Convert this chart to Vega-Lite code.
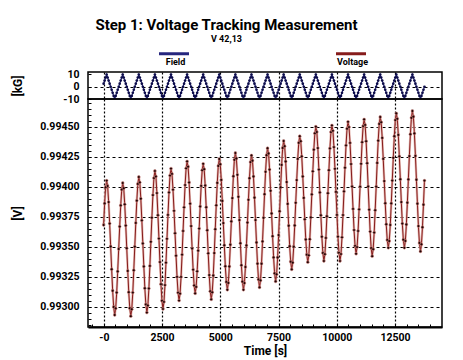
{
  "$schema": "https://vega.github.io/schema/vega-lite/v6.json",
  "background": "white",
  "padding": {"left": 10, "top": 18, "right": 5, "bottom": 5},
  "title": {
    "text": "Step 1: Voltage Tracking Measurement",
    "subtitle": "V 42,13",
    "anchor": "middle",
    "fontSize": 15,
    "fontWeight": "bold",
    "color": "black",
    "subtitleFontSize": 9,
    "subtitleFontWeight": "bold",
    "subtitleColor": "black",
    "subtitlePadding": 2,
    "offset": -7
  },
  "config": {
    "font": "Roboto",
    "view": {"stroke": "black", "strokeWidth": 1.5},
    "axis": {
      "labelFontSize": 10.5,
      "labelFontWeight": "bold",
      "labelColor": "black",
      "titleFontSize": 12,
      "titleFontWeight": "bold",
      "titleColor": "black",
      "tickColor": "black",
      "gridColor": "black",
      "gridWidth": 1.2,
      "domain": false,
      "labelOverlap": false,
      "labelBound": false,
      "labelFlush": false
    }
  },
  "datasets": {
    "run": [
      {"t": -10, "f": 2.5, "v": 0.99368},
      {"t": 34, "f": 5, "v": 0.99386},
      {"t": 77, "f": 7.5, "v": 0.993994},
      {"t": 120, "f": 10, "v": 0.99405},
      {"t": 163, "f": 7.5, "v": 0.994005},
      {"t": 206, "f": 5, "v": 0.993871},
      {"t": 250, "f": 2.5, "v": 0.993692},
      {"t": 293, "f": 0, "v": 0.993501},
      {"t": 336, "f": -2.5, "v": 0.993311},
      {"t": 379, "f": -5, "v": 0.993132},
      {"t": 422, "f": -7.5, "v": 0.992997},
      {"t": 466, "f": -10, "v": 0.99293},
      {"t": 509, "f": -7.5, "v": 0.992985},
      {"t": 552, "f": -5, "v": 0.993117},
      {"t": 595, "f": -2.5, "v": 0.993293},
      {"t": 638, "f": 0, "v": 0.99348},
      {"t": 681, "f": 2.5, "v": 0.993667},
      {"t": 725, "f": 5, "v": 0.993843},
      {"t": 768, "f": 7.5, "v": 0.993975},
      {"t": 811, "f": 10, "v": 0.99403},
      {"t": 854, "f": 7.5, "v": 0.993986},
      {"t": 897, "f": 5, "v": 0.993852},
      {"t": 941, "f": 2.5, "v": 0.993675},
      {"t": 984, "f": 0, "v": 0.993486},
      {"t": 1027, "f": -2.5, "v": 0.993297},
      {"t": 1070, "f": -5, "v": 0.99312},
      {"t": 1113, "f": -7.5, "v": 0.992987},
      {"t": 1157, "f": -10, "v": 0.99292},
      {"t": 1200, "f": -7.5, "v": 0.992978},
      {"t": 1243, "f": -5, "v": 0.993117},
      {"t": 1286, "f": -2.5, "v": 0.993303},
      {"t": 1329, "f": 0, "v": 0.9935},
      {"t": 1372, "f": 2.5, "v": 0.993697},
      {"t": 1416, "f": 5, "v": 0.993883},
      {"t": 1459, "f": 7.5, "v": 0.994022},
      {"t": 1502, "f": 10, "v": 0.99408},
      {"t": 1545, "f": 7.5, "v": 0.994035},
      {"t": 1588, "f": 5, "v": 0.993899},
      {"t": 1632, "f": 2.5, "v": 0.993718},
      {"t": 1675, "f": 0, "v": 0.993526},
      {"t": 1718, "f": -2.5, "v": 0.993334},
      {"t": 1761, "f": -5, "v": 0.993153},
      {"t": 1804, "f": -7.5, "v": 0.993018},
      {"t": 1848, "f": -10, "v": 0.99295},
      {"t": 1891, "f": -7.5, "v": 0.993009},
      {"t": 1934, "f": -5, "v": 0.993151},
      {"t": 1977, "f": -2.5, "v": 0.993339},
      {"t": 2020, "f": 0, "v": 0.99354},
      {"t": 2063, "f": 2.5, "v": 0.993741},
      {"t": 2107, "f": 5, "v": 0.993929},
      {"t": 2150, "f": 7.5, "v": 0.994071},
      {"t": 2193, "f": 10, "v": 0.99413},
      {"t": 2236, "f": 7.5, "v": 0.994084},
      {"t": 2279, "f": 5, "v": 0.993946},
      {"t": 2323, "f": 2.5, "v": 0.993762},
      {"t": 2366, "f": 0, "v": 0.993567},
      {"t": 2409, "f": -2.5, "v": 0.993371},
      {"t": 2452, "f": -5, "v": 0.993187},
      {"t": 2495, "f": -7.5, "v": 0.993049},
      {"t": 2539, "f": -10, "v": 0.99298},
      {"t": 2582, "f": -7.5, "v": 0.993039},
      {"t": 2625, "f": -5, "v": 0.993179},
      {"t": 2668, "f": -2.5, "v": 0.993366},
      {"t": 2711, "f": 0, "v": 0.993565},
      {"t": 2754, "f": 2.5, "v": 0.993764},
      {"t": 2798, "f": 5, "v": 0.993951},
      {"t": 2841, "f": 7.5, "v": 0.994092},
      {"t": 2884, "f": 10, "v": 0.99415},
      {"t": 2927, "f": 7.5, "v": 0.994106},
      {"t": 2970, "f": 5, "v": 0.993974},
      {"t": 3014, "f": 2.5, "v": 0.993798},
      {"t": 3057, "f": 0, "v": 0.993611},
      {"t": 3100, "f": -2.5, "v": 0.993424},
      {"t": 3143, "f": -5, "v": 0.993248},
      {"t": 3186, "f": -7.5, "v": 0.993116},
      {"t": 3230, "f": -10, "v": 0.99305},
      {"t": 3273, "f": -7.5, "v": 0.993108},
      {"t": 3316, "f": -5, "v": 0.993247},
      {"t": 3359, "f": -2.5, "v": 0.993433},
      {"t": 3402, "f": 0, "v": 0.99363},
      {"t": 3445, "f": 2.5, "v": 0.993827},
      {"t": 3489, "f": 5, "v": 0.994013},
      {"t": 3532, "f": 7.5, "v": 0.994152},
      {"t": 3575, "f": 10, "v": 0.99421},
      {"t": 3618, "f": 7.5, "v": 0.994166},
      {"t": 3661, "f": 5, "v": 0.994034},
      {"t": 3705, "f": 2.5, "v": 0.993858},
      {"t": 3748, "f": 0, "v": 0.993671},
      {"t": 3791, "f": -2.5, "v": 0.993484},
      {"t": 3834, "f": -5, "v": 0.993308},
      {"t": 3877, "f": -7.5, "v": 0.993176},
      {"t": 3921, "f": -10, "v": 0.99311},
      {"t": 3964, "f": -7.5, "v": 0.993164},
      {"t": 4007, "f": -5, "v": 0.993294},
      {"t": 4050, "f": -2.5, "v": 0.993466},
      {"t": 4093, "f": 0, "v": 0.99365},
      {"t": 4136, "f": 2.5, "v": 0.993834},
      {"t": 4180, "f": 5, "v": 0.994006},
      {"t": 4223, "f": 7.5, "v": 0.994136},
      {"t": 4266, "f": 10, "v": 0.99419},
      {"t": 4309, "f": 7.5, "v": 0.994145},
      {"t": 4352, "f": 5, "v": 0.994009},
      {"t": 4396, "f": 2.5, "v": 0.993828},
      {"t": 4439, "f": 0, "v": 0.993636},
      {"t": 4482, "f": -2.5, "v": 0.993444},
      {"t": 4525, "f": -5, "v": 0.993263},
      {"t": 4568, "f": -7.5, "v": 0.993128},
      {"t": 4612, "f": -10, "v": 0.99306},
      {"t": 4655, "f": -7.5, "v": 0.993119},
      {"t": 4698, "f": -5, "v": 0.993259},
      {"t": 4741, "f": -2.5, "v": 0.993446},
      {"t": 4784, "f": 0, "v": 0.993645},
      {"t": 4827, "f": 2.5, "v": 0.993844},
      {"t": 4871, "f": 5, "v": 0.994031},
      {"t": 4914, "f": 7.5, "v": 0.994172},
      {"t": 4957, "f": 10, "v": 0.99423},
      {"t": 5000, "f": 7.5, "v": 0.994186},
      {"t": 5043, "f": 5, "v": 0.994056},
      {"t": 5087, "f": 2.5, "v": 0.993881},
      {"t": 5130, "f": 0, "v": 0.993696},
      {"t": 5173, "f": -2.5, "v": 0.993511},
      {"t": 5216, "f": -5, "v": 0.993336},
      {"t": 5259, "f": -7.5, "v": 0.993205},
      {"t": 5303, "f": -10, "v": 0.99314},
      {"t": 5346, "f": -7.5, "v": 0.993197},
      {"t": 5389, "f": -5, "v": 0.993334},
      {"t": 5432, "f": -2.5, "v": 0.993516},
      {"t": 5475, "f": 0, "v": 0.99371},
      {"t": 5518, "f": 2.5, "v": 0.993904},
      {"t": 5562, "f": 5, "v": 0.994086},
      {"t": 5605, "f": 7.5, "v": 0.994223},
      {"t": 5648, "f": 10, "v": 0.99428},
      {"t": 5691, "f": 7.5, "v": 0.994234},
      {"t": 5734, "f": 5, "v": 0.994098},
      {"t": 5778, "f": 2.5, "v": 0.993915},
      {"t": 5821, "f": 0, "v": 0.993721},
      {"t": 5864, "f": -2.5, "v": 0.993528},
      {"t": 5907, "f": -5, "v": 0.993345},
      {"t": 5950, "f": -7.5, "v": 0.993208},
      {"t": 5994, "f": -10, "v": 0.99314},
      {"t": 6037, "f": -7.5, "v": 0.993196},
      {"t": 6080, "f": -5, "v": 0.99333},
      {"t": 6123, "f": -2.5, "v": 0.99351},
      {"t": 6166, "f": 0, "v": 0.9937},
      {"t": 6209, "f": 2.5, "v": 0.99389},
      {"t": 6253, "f": 5, "v": 0.99407},
      {"t": 6296, "f": 7.5, "v": 0.994204},
      {"t": 6339, "f": 10, "v": 0.99426},
      {"t": 6382, "f": 7.5, "v": 0.994216},
      {"t": 6425, "f": 5, "v": 0.994084},
      {"t": 6469, "f": 2.5, "v": 0.993908},
      {"t": 6512, "f": 0, "v": 0.993721},
      {"t": 6555, "f": -2.5, "v": 0.993534},
      {"t": 6598, "f": -5, "v": 0.993358},
      {"t": 6641, "f": -7.5, "v": 0.993226},
      {"t": 6685, "f": -10, "v": 0.99316},
      {"t": 6728, "f": -7.5, "v": 0.993218},
      {"t": 6771, "f": -5, "v": 0.993357},
      {"t": 6814, "f": -2.5, "v": 0.993543},
      {"t": 6857, "f": 0, "v": 0.99374},
      {"t": 6900, "f": 2.5, "v": 0.993937},
      {"t": 6944, "f": 5, "v": 0.994123},
      {"t": 6987, "f": 7.5, "v": 0.994262},
      {"t": 7030, "f": 10, "v": 0.99432},
      {"t": 7073, "f": 7.5, "v": 0.994276},
      {"t": 7116, "f": 5, "v": 0.994142},
      {"t": 7160, "f": 2.5, "v": 0.993965},
      {"t": 7203, "f": 0, "v": 0.993776},
      {"t": 7246, "f": -2.5, "v": 0.993587},
      {"t": 7289, "f": -5, "v": 0.99341},
      {"t": 7332, "f": -7.5, "v": 0.993277},
      {"t": 7376, "f": -10, "v": 0.99321},
      {"t": 7419, "f": -7.5, "v": 0.993269},
      {"t": 7462, "f": -5, "v": 0.993409},
      {"t": 7505, "f": -2.5, "v": 0.993596},
      {"t": 7548, "f": 0, "v": 0.993795},
      {"t": 7591, "f": 2.5, "v": 0.993994},
      {"t": 7635, "f": 5, "v": 0.994181},
      {"t": 7678, "f": 7.5, "v": 0.994322},
      {"t": 7721, "f": 10, "v": 0.99438},
      {"t": 7764, "f": 7.5, "v": 0.994337},
      {"t": 7807, "f": 5, "v": 0.994209},
      {"t": 7851, "f": 2.5, "v": 0.994038},
      {"t": 7894, "f": 0, "v": 0.993856},
      {"t": 7937, "f": -2.5, "v": 0.993674},
      {"t": 7980, "f": -5, "v": 0.993503},
      {"t": 8023, "f": -7.5, "v": 0.993374},
      {"t": 8067, "f": -10, "v": 0.99331},
      {"t": 8110, "f": -7.5, "v": 0.993366},
      {"t": 8153, "f": -5, "v": 0.993499},
      {"t": 8196, "f": -2.5, "v": 0.993676},
      {"t": 8239, "f": 0, "v": 0.993865},
      {"t": 8282, "f": 2.5, "v": 0.994054},
      {"t": 8326, "f": 5, "v": 0.994231},
      {"t": 8369, "f": 7.5, "v": 0.994365},
      {"t": 8412, "f": 10, "v": 0.99442},
      {"t": 8455, "f": 7.5, "v": 0.994378},
      {"t": 8498, "f": 5, "v": 0.994252},
      {"t": 8542, "f": 2.5, "v": 0.994084},
      {"t": 8585, "f": 0, "v": 0.993906},
      {"t": 8628, "f": -2.5, "v": 0.993727},
      {"t": 8671, "f": -5, "v": 0.993559},
      {"t": 8714, "f": -7.5, "v": 0.993433},
      {"t": 8758, "f": -10, "v": 0.99337},
      {"t": 8801, "f": -7.5, "v": 0.993427},
      {"t": 8844, "f": -5, "v": 0.993562},
      {"t": 8887, "f": -2.5, "v": 0.993743},
      {"t": 8930, "f": 0, "v": 0.993935},
      {"t": 8973, "f": 2.5, "v": 0.994127},
      {"t": 9017, "f": 5, "v": 0.994308},
      {"t": 9060, "f": 7.5, "v": 0.994444},
      {"t": 9103, "f": 10, "v": 0.9945},
      {"t": 9146, "f": 7.5, "v": 0.994455},
      {"t": 9189, "f": 5, "v": 0.994321},
      {"t": 9233, "f": 2.5, "v": 0.994142},
      {"t": 9276, "f": 0, "v": 0.993951},
      {"t": 9319, "f": -2.5, "v": 0.993761},
      {"t": 9362, "f": -5, "v": 0.993582},
      {"t": 9405, "f": -7.5, "v": 0.993447},
      {"t": 9449, "f": -10, "v": 0.99338},
      {"t": 9492, "f": -7.5, "v": 0.993437},
      {"t": 9535, "f": -5, "v": 0.993572},
      {"t": 9578, "f": -2.5, "v": 0.993753},
      {"t": 9621, "f": 0, "v": 0.993945},
      {"t": 9664, "f": 2.5, "v": 0.994137},
      {"t": 9708, "f": 5, "v": 0.994318},
      {"t": 9751, "f": 7.5, "v": 0.994454},
      {"t": 9794, "f": 10, "v": 0.99451},
      {"t": 9837, "f": 7.5, "v": 0.994465},
      {"t": 9880, "f": 5, "v": 0.994329},
      {"t": 9924, "f": 2.5, "v": 0.994148},
      {"t": 9967, "f": 0, "v": 0.993956},
      {"t": 10010, "f": -2.5, "v": 0.993764},
      {"t": 10053, "f": -5, "v": 0.993583},
      {"t": 10096, "f": -7.5, "v": 0.993448},
      {"t": 10140, "f": -10, "v": 0.99338},
      {"t": 10183, "f": -7.5, "v": 0.993438},
      {"t": 10226, "f": -5, "v": 0.993577},
      {"t": 10269, "f": -2.5, "v": 0.993763},
      {"t": 10312, "f": 0, "v": 0.99396},
      {"t": 10355, "f": 2.5, "v": 0.994157},
      {"t": 10399, "f": 5, "v": 0.994343},
      {"t": 10442, "f": 7.5, "v": 0.994482},
      {"t": 10485, "f": 10, "v": 0.99454},
      {"t": 10528, "f": 7.5, "v": 0.994496},
      {"t": 10571, "f": 5, "v": 0.994364},
      {"t": 10615, "f": 2.5, "v": 0.994188},
      {"t": 10658, "f": 0, "v": 0.994001},
      {"t": 10701, "f": -2.5, "v": 0.993814},
      {"t": 10744, "f": -5, "v": 0.993638},
      {"t": 10787, "f": -7.5, "v": 0.993506},
      {"t": 10831, "f": -10, "v": 0.99344},
      {"t": 10874, "f": -7.5, "v": 0.993496},
      {"t": 10917, "f": -5, "v": 0.99363},
      {"t": 10960, "f": -2.5, "v": 0.99381},
      {"t": 11003, "f": 0, "v": 0.994},
      {"t": 11046, "f": 2.5, "v": 0.99419},
      {"t": 11090, "f": 5, "v": 0.99437},
      {"t": 11133, "f": 7.5, "v": 0.994504},
      {"t": 11176, "f": 10, "v": 0.99456},
      {"t": 11219, "f": 7.5, "v": 0.994514},
      {"t": 11262, "f": 5, "v": 0.994378},
      {"t": 11306, "f": 2.5, "v": 0.994195},
      {"t": 11349, "f": 0, "v": 0.994001},
      {"t": 11392, "f": -2.5, "v": 0.993808},
      {"t": 11435, "f": -5, "v": 0.993625},
      {"t": 11478, "f": -7.5, "v": 0.993488},
      {"t": 11522, "f": -10, "v": 0.99342},
      {"t": 11565, "f": -7.5, "v": 0.993478},
      {"t": 11608, "f": -5, "v": 0.993617},
      {"t": 11651, "f": -2.5, "v": 0.993803},
      {"t": 11694, "f": 0, "v": 0.994},
      {"t": 11737, "f": 2.5, "v": 0.994197},
      {"t": 11781, "f": 5, "v": 0.994383},
      {"t": 11824, "f": 7.5, "v": 0.994522},
      {"t": 11867, "f": 10, "v": 0.99458},
      {"t": 11910, "f": 7.5, "v": 0.994536},
      {"t": 11953, "f": 5, "v": 0.994406},
      {"t": 11997, "f": 2.5, "v": 0.994231},
      {"t": 12040, "f": 0, "v": 0.994046},
      {"t": 12083, "f": -2.5, "v": 0.993861},
      {"t": 12126, "f": -5, "v": 0.993686},
      {"t": 12169, "f": -7.5, "v": 0.993555},
      {"t": 12213, "f": -10, "v": 0.99349},
      {"t": 12256, "f": -7.5, "v": 0.993546},
      {"t": 12299, "f": -5, "v": 0.99368},
      {"t": 12342, "f": -2.5, "v": 0.99386},
      {"t": 12385, "f": 0, "v": 0.99405},
      {"t": 12428, "f": 2.5, "v": 0.99424},
      {"t": 12472, "f": 5, "v": 0.99442},
      {"t": 12515, "f": 7.5, "v": 0.994554},
      {"t": 12558, "f": 10, "v": 0.99461},
      {"t": 12601, "f": 7.5, "v": 0.994565},
      {"t": 12644, "f": 5, "v": 0.994431},
      {"t": 12688, "f": 2.5, "v": 0.994252},
      {"t": 12731, "f": 0, "v": 0.994061},
      {"t": 12774, "f": -2.5, "v": 0.993871},
      {"t": 12817, "f": -5, "v": 0.993692},
      {"t": 12860, "f": -7.5, "v": 0.993557},
      {"t": 12904, "f": -10, "v": 0.99349},
      {"t": 12947, "f": -7.5, "v": 0.993547},
      {"t": 12990, "f": -5, "v": 0.993684},
      {"t": 13033, "f": -2.5, "v": 0.993866},
      {"t": 13076, "f": 0, "v": 0.99406},
      {"t": 13119, "f": 2.5, "v": 0.994254},
      {"t": 13163, "f": 5, "v": 0.994436},
      {"t": 13206, "f": 7.5, "v": 0.994573},
      {"t": 13249, "f": 10, "v": 0.99463},
      {"t": 13292, "f": 7.5, "v": 0.994583},
      {"t": 13335, "f": 5, "v": 0.994443},
      {"t": 13379, "f": 2.5, "v": 0.994256},
      {"t": 13422, "f": 0, "v": 0.994057},
      {"t": 13465, "f": -2.5, "v": 0.993858},
      {"t": 13508, "f": -5, "v": 0.993671},
      {"t": 13551, "f": -7.5, "v": 0.99353},
      {"t": 13595, "f": -10, "v": 0.99346},
      {"t": 13638, "f": -7.5, "v": 0.993519},
      {"t": 13681, "f": -5, "v": 0.993661},
      {"t": 13724, "f": -2.5, "v": 0.993849},
      {"t": 13767, "f": 0, "v": 0.99405}
    ]
  },
  "spacing": 0,
  "bounds": "flush",
  "vconcat": [
    {
      "width": 354,
      "height": 27,
      "data": {"name": "run"},
      "layer": [
        {
          "mark": {"type": "line", "strokeWidth": 1.1, "clip": true},
          "encoding": {
            "x": {
              "field": "t",
              "type": "quantitative",
              "scale": {"domain": [-680, 14520], "nice": false, "zero": false},
              "axis": {
                "values": [0, 2500, 5000, 7500, 10000, 12500],
                "tickCount": 100,
                "labels": false,
                "ticks": false,
                "title": null,
                "minExtent": 0,
                "maxExtent": 0,
                "grid": true,
                "gridDash": [2, 2]
              }
            },
            "y": {
              "field": "f",
              "type": "quantitative",
              "scale": {"domain": [-10, 12], "nice": false, "zero": false},
              "axis": {
                "values": [-10, 0, 10],
                "tickCount": 100,
                "labelExpr": "datum.value < 0 ? '-' + abs(datum.value) : '' + datum.value",
                "title": "[kG]",
                "titleX": -71,
                "titleY": 13.5,
                "titleBaseline": "middle",
                "tickSize": -3,
                "labelPadding": 12,
                "grid": true,
                "gridDash": [3, 3],
                "gridOpacity": {"condition": {"test": "datum.value === 0", "value": 1}, "value": 0}
              }
            },
            "color": {
              "datum": "Field",
              "type": "nominal",
              "scale": {"domain": ["Field", "Voltage"], "range": ["#26267e", "#861c1c"]},
              "legend": {
                "title": null,
                "orient": "none",
                "legendX": 69.5,
                "legendY": -35,
                "direction": "horizontal",
                "symbolType": "stroke",
                "symbolSize": 900,
                "symbolStrokeWidth": 3,
                "labelExpr": "['', datum.label]",
                "labelAlign": "center",
                "labelBaseline": "alphabetic",
                "labelOffset": -15,
                "labelFontSize": 9,
                "labelFontWeight": "bold",
                "labelColor": "black",
                "columnPadding": 134
              }
            }
          }
        },
        {
          "mark": {"type": "point", "filled": true, "size": 7, "color": "#0c0c48", "opacity": 1, "clip": true},
          "encoding": {
            "x": {"field": "t", "type": "quantitative"},
            "y": {"field": "f", "type": "quantitative"}
          }
        }
      ]
    },
    {
      "width": 354,
      "height": 228,
      "data": {"name": "run"},
      "layer": [
        {
          "mark": {"type": "line", "strokeWidth": 2.4, "color": "#e0aaa2", "opacity": 0.8, "clip": true},
          "encoding": {
            "x": {
              "field": "t",
              "type": "quantitative",
              "scale": {"domain": [-680, 14520], "nice": false, "zero": false},
              "axis": {
                "values": [-500, 0, 500, 1000, 1500, 2000, 2500, 3000, 3500, 4000, 4500, 5000, 5500, 6000, 6500, 7000, 7500, 8000, 8500, 9000, 9500, 10000, 10500, 11000, 11500, 12000, 12500, 13000, 13500, 14000],
                "tickCount": 100,
                "labelExpr": "datum.value % 2500 === 0 ? (datum.value === 0 ? '-0' : format(datum.value, 'd')) : ''",
                "title": "Time [s]",
                "titlePadding": 3,
                "tickSize": -3,
                "labelPadding": 8,
                "domain": true,
                "domainColor": "black",
                "domainWidth": 2,
                "grid": true,
                "gridDash": [2, 2],
                "gridOpacity": {"condition": {"test": "datum.value % 2500 === 0", "value": 1}, "value": 0}
              }
            },
            "y": {
              "field": "v",
              "type": "quantitative",
              "scale": {"domain": [0.99283, 0.99473], "nice": false, "zero": false},
              "axis": {
                "values": [0.99285, 0.9929, 0.99295, 0.993, 0.99305, 0.9931, 0.99315, 0.9932, 0.99325, 0.9933, 0.99335, 0.9934, 0.99345, 0.9935, 0.99355, 0.9936, 0.99365, 0.9937, 0.99375, 0.9938, 0.99385, 0.9939, 0.99395, 0.994, 0.99405, 0.9941, 0.99415, 0.9942, 0.99425, 0.9943, 0.99435, 0.9944, 0.99445, 0.9945, 0.99455, 0.9946, 0.99465, 0.9947],
                "tickCount": 100,
                "labelExpr": "round(datum.value * 100000) % 25 === 0 ? format(datum.value, '.5f') : ''",
                "title": "[V]",
                "titleX": -71,
                "titleY": 114,
                "titleBaseline": "middle",
                "tickSize": -3,
                "labelPadding": 12,
                "grid": true,
                "gridDash": [3, 3],
                "gridOpacity": {"condition": {"test": "round(datum.value * 100000) % 25 === 0", "value": 1}, "value": 0}
              }
            }
          }
        },
        {
          "mark": {"type": "line", "strokeWidth": 1, "clip": true},
          "encoding": {
            "x": {"field": "t", "type": "quantitative"},
            "y": {"field": "v", "type": "quantitative"},
            "color": {
              "datum": "Voltage",
              "type": "nominal",
              "scale": {"domain": ["Field", "Voltage"], "range": ["#26267e", "#861c1c"]}
            }
          }
        },
        {
          "mark": {"type": "point", "filled": true, "size": 8, "color": "#1e0404", "opacity": 1, "stroke": "#e8908a", "strokeWidth": 0.5, "clip": true},
          "encoding": {
            "x": {"field": "t", "type": "quantitative"},
            "y": {"field": "v", "type": "quantitative"}
          }
        }
      ]
    }
  ]
}
